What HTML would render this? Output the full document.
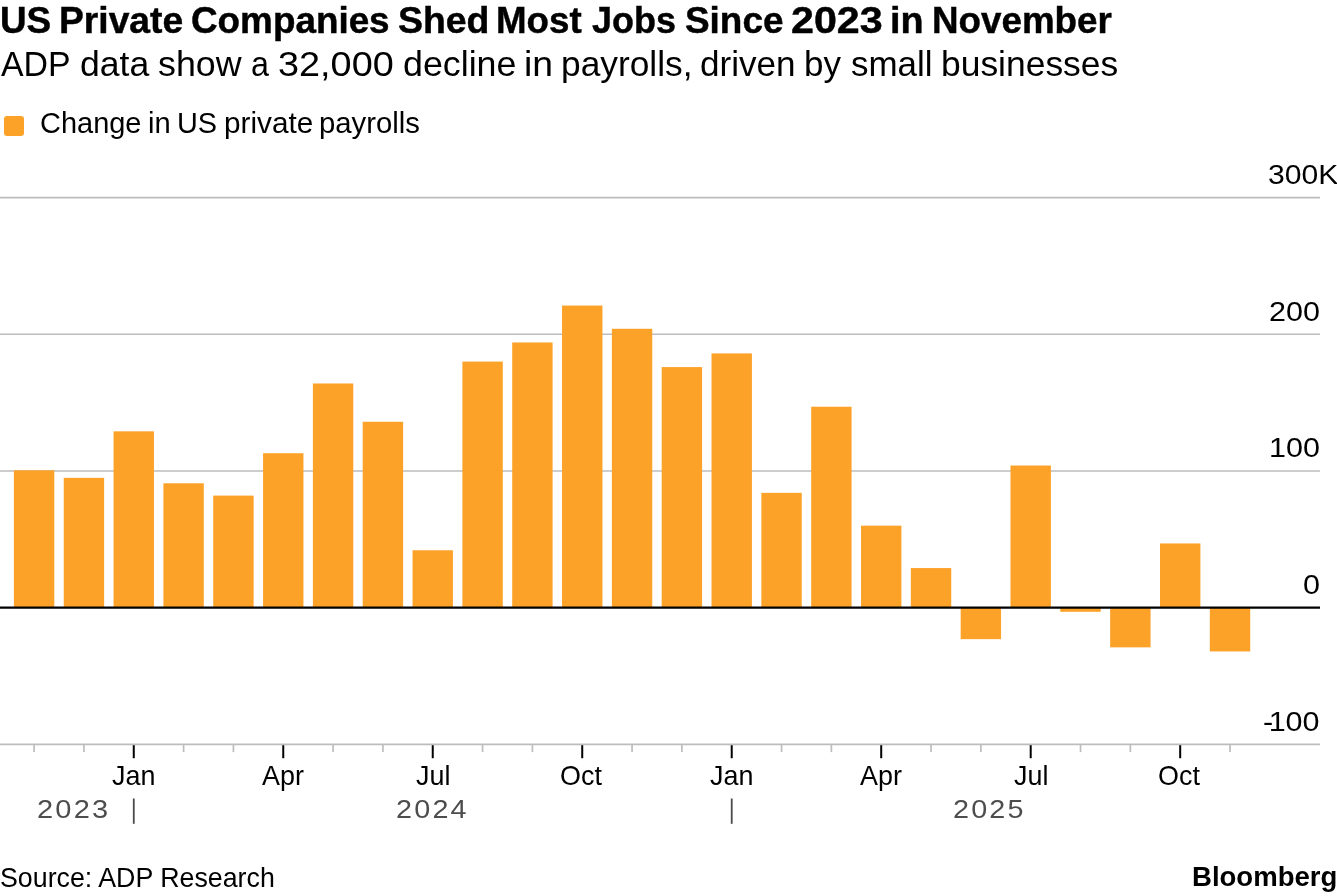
<!DOCTYPE html>
<html lang="en"><head><meta charset="utf-8"><title>US Private Companies Shed Most Jobs Since 2023 in November</title>
<style>
html,body{margin:0;padding:0;background:#fff}
body{width:1337px;height:896px;position:relative;overflow:hidden;font-family:"Liberation Sans",sans-serif;color:#000}
.t{position:absolute;white-space:nowrap;line-height:1;margin:0;padding:0;font-weight:normal;transform-origin:0 0}
#title,#logo{font-weight:bold}
#title{-webkit-text-stroke:0.45px #000}
.yr{color:#4d4d4d}
.w{width:1337px;height:1em}
.w span{position:absolute;top:0;display:block;transform-origin:0 0;white-space:nowrap}
#legsw{position:absolute;left:4.2px;top:115.8px;width:19.7px;height:20px;border-radius:3px;background:#fda229}
svg{position:absolute;left:0;top:0}
</style></head><body>
<h1 id="title" class="t w" style="left:0;top:2.84px;font-size:36.8px"><span style="left:-0.24px;transform:scaleX(1.0014)">US</span> <span style="left:58.74px;transform:scaleX(1.0118)">Private</span> <span style="left:191.23px;transform:scaleX(1.0014)">Companies</span> <span style="left:397.58px;transform:scaleX(1.0165)">Shed</span> <span style="left:496.37px;transform:scaleX(0.9976)">Most</span> <span style="left:592.25px;transform:scaleX(0.9765)">Jobs</span> <span style="left:684.8px;transform:scaleX(1.0031)">Since</span> <span style="left:791.41px;transform:scaleX(1.1206)">2023</span> <span style="left:889.96px;transform:scaleX(1.0265)">in</span> <span style="left:931.67px;transform:scaleX(0.9994)">November</span></h1>
<p id="sub" class="t w" style="left:0;top:46.8px;font-size:34.6px"><span style="left:0.9px;transform:scaleX(0.9793)">ADP</span> <span style="left:79.53px;transform:scaleX(1.0288)">data</span> <span style="left:158.06px;transform:scaleX(1.0356)">show</span> <span style="left:251.06px;transform:scaleX(0.9333)">a</span> <span style="left:278.34px;transform:scaleX(1.0942)">32,000</span> <span style="left:403.22px;transform:scaleX(1.0350)">decline</span> <span style="left:523.68px;transform:scaleX(1.0791)">in</span> <span style="left:560.82px;transform:scaleX(1.0216)">payrolls,</span> <span style="left:699.95px;transform:scaleX(1.0147)">driven</span> <span style="left:804.34px;transform:scaleX(1.0118)">by</span> <span style="left:851.29px;transform:scaleX(1.0112)">small</span> <span style="left:941.01px;transform:scaleX(1.0246)">businesses</span></p>
<div id="legsw"></div>
<div id="leg" class="t w" style="left:0;top:108.82px;font-size:28.8px"><span style="left:39.86px;transform:scaleX(1.0058)">Change</span> <span style="left:148.38px;transform:scaleX(1.0125)">in</span> <span style="left:177.36px;transform:scaleX(1.0018)">US</span> <span style="left:223.73px;transform:scaleX(1.0325)">private</span> <span style="left:319.47px;transform:scaleX(1.0173)">payrolls</span></div>
<svg width="1337" height="896" viewBox="0 0 1337 896">
<g stroke="#bdbdbd" stroke-width="1.7" fill="none">
<line x1="0" x2="1320" y1="197.54" y2="197.54"/>
<line x1="0" x2="1320" y1="334.26" y2="334.26"/>
<line x1="0" x2="1320" y1="470.98" y2="470.98"/>
<line x1="0" x2="1320" y1="744.42" y2="744.42"/>
<line x1="34.1" x2="34.1" y1="744.42" y2="752.12"/>
<line x1="83.93" x2="83.93" y1="744.42" y2="752.12"/>
<line x1="183.59" x2="183.59" y1="744.42" y2="752.12"/>
<line x1="233.42" x2="233.42" y1="744.42" y2="752.12"/>
<line x1="333.08" x2="333.08" y1="744.42" y2="752.12"/>
<line x1="382.91" x2="382.91" y1="744.42" y2="752.12"/>
<line x1="482.57" x2="482.57" y1="744.42" y2="752.12"/>
<line x1="532.4" x2="532.4" y1="744.42" y2="752.12"/>
<line x1="632.06" x2="632.06" y1="744.42" y2="752.12"/>
<line x1="681.89" x2="681.89" y1="744.42" y2="752.12"/>
<line x1="781.55" x2="781.55" y1="744.42" y2="752.12"/>
<line x1="831.38" x2="831.38" y1="744.42" y2="752.12"/>
<line x1="931.04" x2="931.04" y1="744.42" y2="752.12"/>
<line x1="980.87" x2="980.87" y1="744.42" y2="752.12"/>
<line x1="1080.53" x2="1080.53" y1="744.42" y2="752.12"/>
<line x1="1130.36" x2="1130.36" y1="744.42" y2="752.12"/>
<line x1="1230.02" x2="1230.02" y1="744.42" y2="752.12"/>
</g>
<g fill="#fda229">
<rect x="13.9" y="470.3" width="40.4" height="137.4"/>
<rect x="63.73" y="477.82" width="40.4" height="129.88"/>
<rect x="113.56" y="431.33" width="40.4" height="176.37"/>
<rect x="163.39" y="483.28" width="40.4" height="124.42"/>
<rect x="213.22" y="495.59" width="40.4" height="112.11"/>
<rect x="263.05" y="453.21" width="40.4" height="154.49"/>
<rect x="312.88" y="383.48" width="40.4" height="224.22"/>
<rect x="362.71" y="421.76" width="40.4" height="185.94"/>
<rect x="412.54" y="550.28" width="40.4" height="57.42"/>
<rect x="462.37" y="361.6" width="40.4" height="246.1"/>
<rect x="512.2" y="342.46" width="40.4" height="265.24"/>
<rect x="562.03" y="305.55" width="40.4" height="302.15"/>
<rect x="611.86" y="328.79" width="40.4" height="278.91"/>
<rect x="661.69" y="367.07" width="40.4" height="240.63"/>
<rect x="711.52" y="353.4" width="40.4" height="254.3"/>
<rect x="761.35" y="492.86" width="40.4" height="114.84"/>
<rect x="811.18" y="406.72" width="40.4" height="200.98"/>
<rect x="861.01" y="525.67" width="40.4" height="82.03"/>
<rect x="910.84" y="568.05" width="40.4" height="39.65"/>
<rect x="960.67" y="607.7" width="40.4" height="31.45"/>
<rect x="1010.5" y="465.51" width="40.4" height="142.19"/>
<rect x="1060.33" y="607.7" width="40.4" height="4.1"/>
<rect x="1110.16" y="607.7" width="40.4" height="39.65"/>
<rect x="1159.99" y="543.44" width="40.4" height="64.26"/>
<rect x="1209.82" y="607.7" width="40.4" height="43.75"/>
</g>
<g stroke="#000" stroke-width="2" fill="none">
<line x1="0" x2="1320" y1="607.65" y2="607.65" stroke-width="2.1"/>
<line x1="133.76" x2="133.76" y1="745.22" y2="758.22"/>
<line x1="283.25" x2="283.25" y1="745.22" y2="758.22"/>
<line x1="432.74" x2="432.74" y1="745.22" y2="758.22"/>
<line x1="582.23" x2="582.23" y1="745.22" y2="758.22"/>
<line x1="731.72" x2="731.72" y1="745.22" y2="758.22"/>
<line x1="881.21" x2="881.21" y1="745.22" y2="758.22"/>
<line x1="1030.7" x2="1030.7" y1="745.22" y2="758.22"/>
<line x1="1180.19" x2="1180.19" y1="745.22" y2="758.22"/>
</g>
<g stroke="#4a4a4a" stroke-width="1.8" fill="none">
<line x1="133.76" x2="133.76" y1="798.5" y2="823.8"/>
<line x1="731.72" x2="731.72" y1="798.5" y2="823.8"/>
</g>
</svg>
<div id="y300" class="t ax" style="left:1268.19px;top:161.84px;font-size:27.0px;transform:scaleX(1.1141)">300K</div>
<div id="y200" class="t ax" style="left:1268.87px;top:298.6px;font-size:27.0px;transform:scaleX(1.1302)">200</div>
<div id="y100" class="t ax" style="left:1268.87px;top:435.32px;font-size:27.0px;transform:scaleX(1.1302)">100</div>
<div id="y0" class="t ax" style="left:1302.78px;top:572.04px;font-size:27.0px;transform:scaleX(1.1302)">0</div>
<div id="ym100" class="t ax" style="left:1263.22px;top:708.76px;font-size:27.0px;transform:scaleX(1.1302)"><span style="letter-spacing:-4px">-</span>100</div>
<div id="m0" class="t ax" style="left:112.13px;top:761.89px;font-size:27.3px;transform:scaleX(0.9857)">Jan</div>
<div id="m1" class="t ax" style="left:261.95px;top:761.89px;font-size:27.3px;transform:scaleX(0.9857)">Apr</div>
<div id="m2" class="t ax" style="left:415.71px;top:761.89px;font-size:27.3px;transform:scaleX(0.9857)">Jul</div>
<div id="m3" class="t ax" style="left:560.11px;top:761.89px;font-size:27.3px;transform:scaleX(0.9857)">Oct</div>
<div id="m4" class="t ax" style="left:710.09px;top:761.89px;font-size:27.3px;transform:scaleX(0.9857)">Jan</div>
<div id="m5" class="t ax" style="left:859.91px;top:761.89px;font-size:27.3px;transform:scaleX(0.9857)">Apr</div>
<div id="m6" class="t ax" style="left:1013.67px;top:761.89px;font-size:27.3px;transform:scaleX(0.9857)">Jul</div>
<div id="m7" class="t ax" style="left:1158.07px;top:761.89px;font-size:27.3px;transform:scaleX(0.9857)">Oct</div>
<div id="yr23" class="t yr" style="left:37.13px;top:795.53px;font-size:26.3px;transform:scaleX(1.1032);letter-spacing:2px">2023</div>
<div id="yr24" class="t yr" style="left:396.14px;top:795.53px;font-size:26.3px;transform:scaleX(1.0941);letter-spacing:2px">2024</div>
<div id="yr25" class="t yr" style="left:953.14px;top:795.53px;font-size:26.3px;transform:scaleX(1.0935);letter-spacing:2px">2025</div>
<div id="src" class="t" style="left:-0.33px;top:864.92px;font-size:26.9px;transform:scaleX(0.9956)">Source: ADP Research</div>
<div id="logo" class="t" style="left:1191.53px;top:862.62px;font-size:27.5px;transform:scaleX(1.0016)">Bloomberg</div>
</body></html>
